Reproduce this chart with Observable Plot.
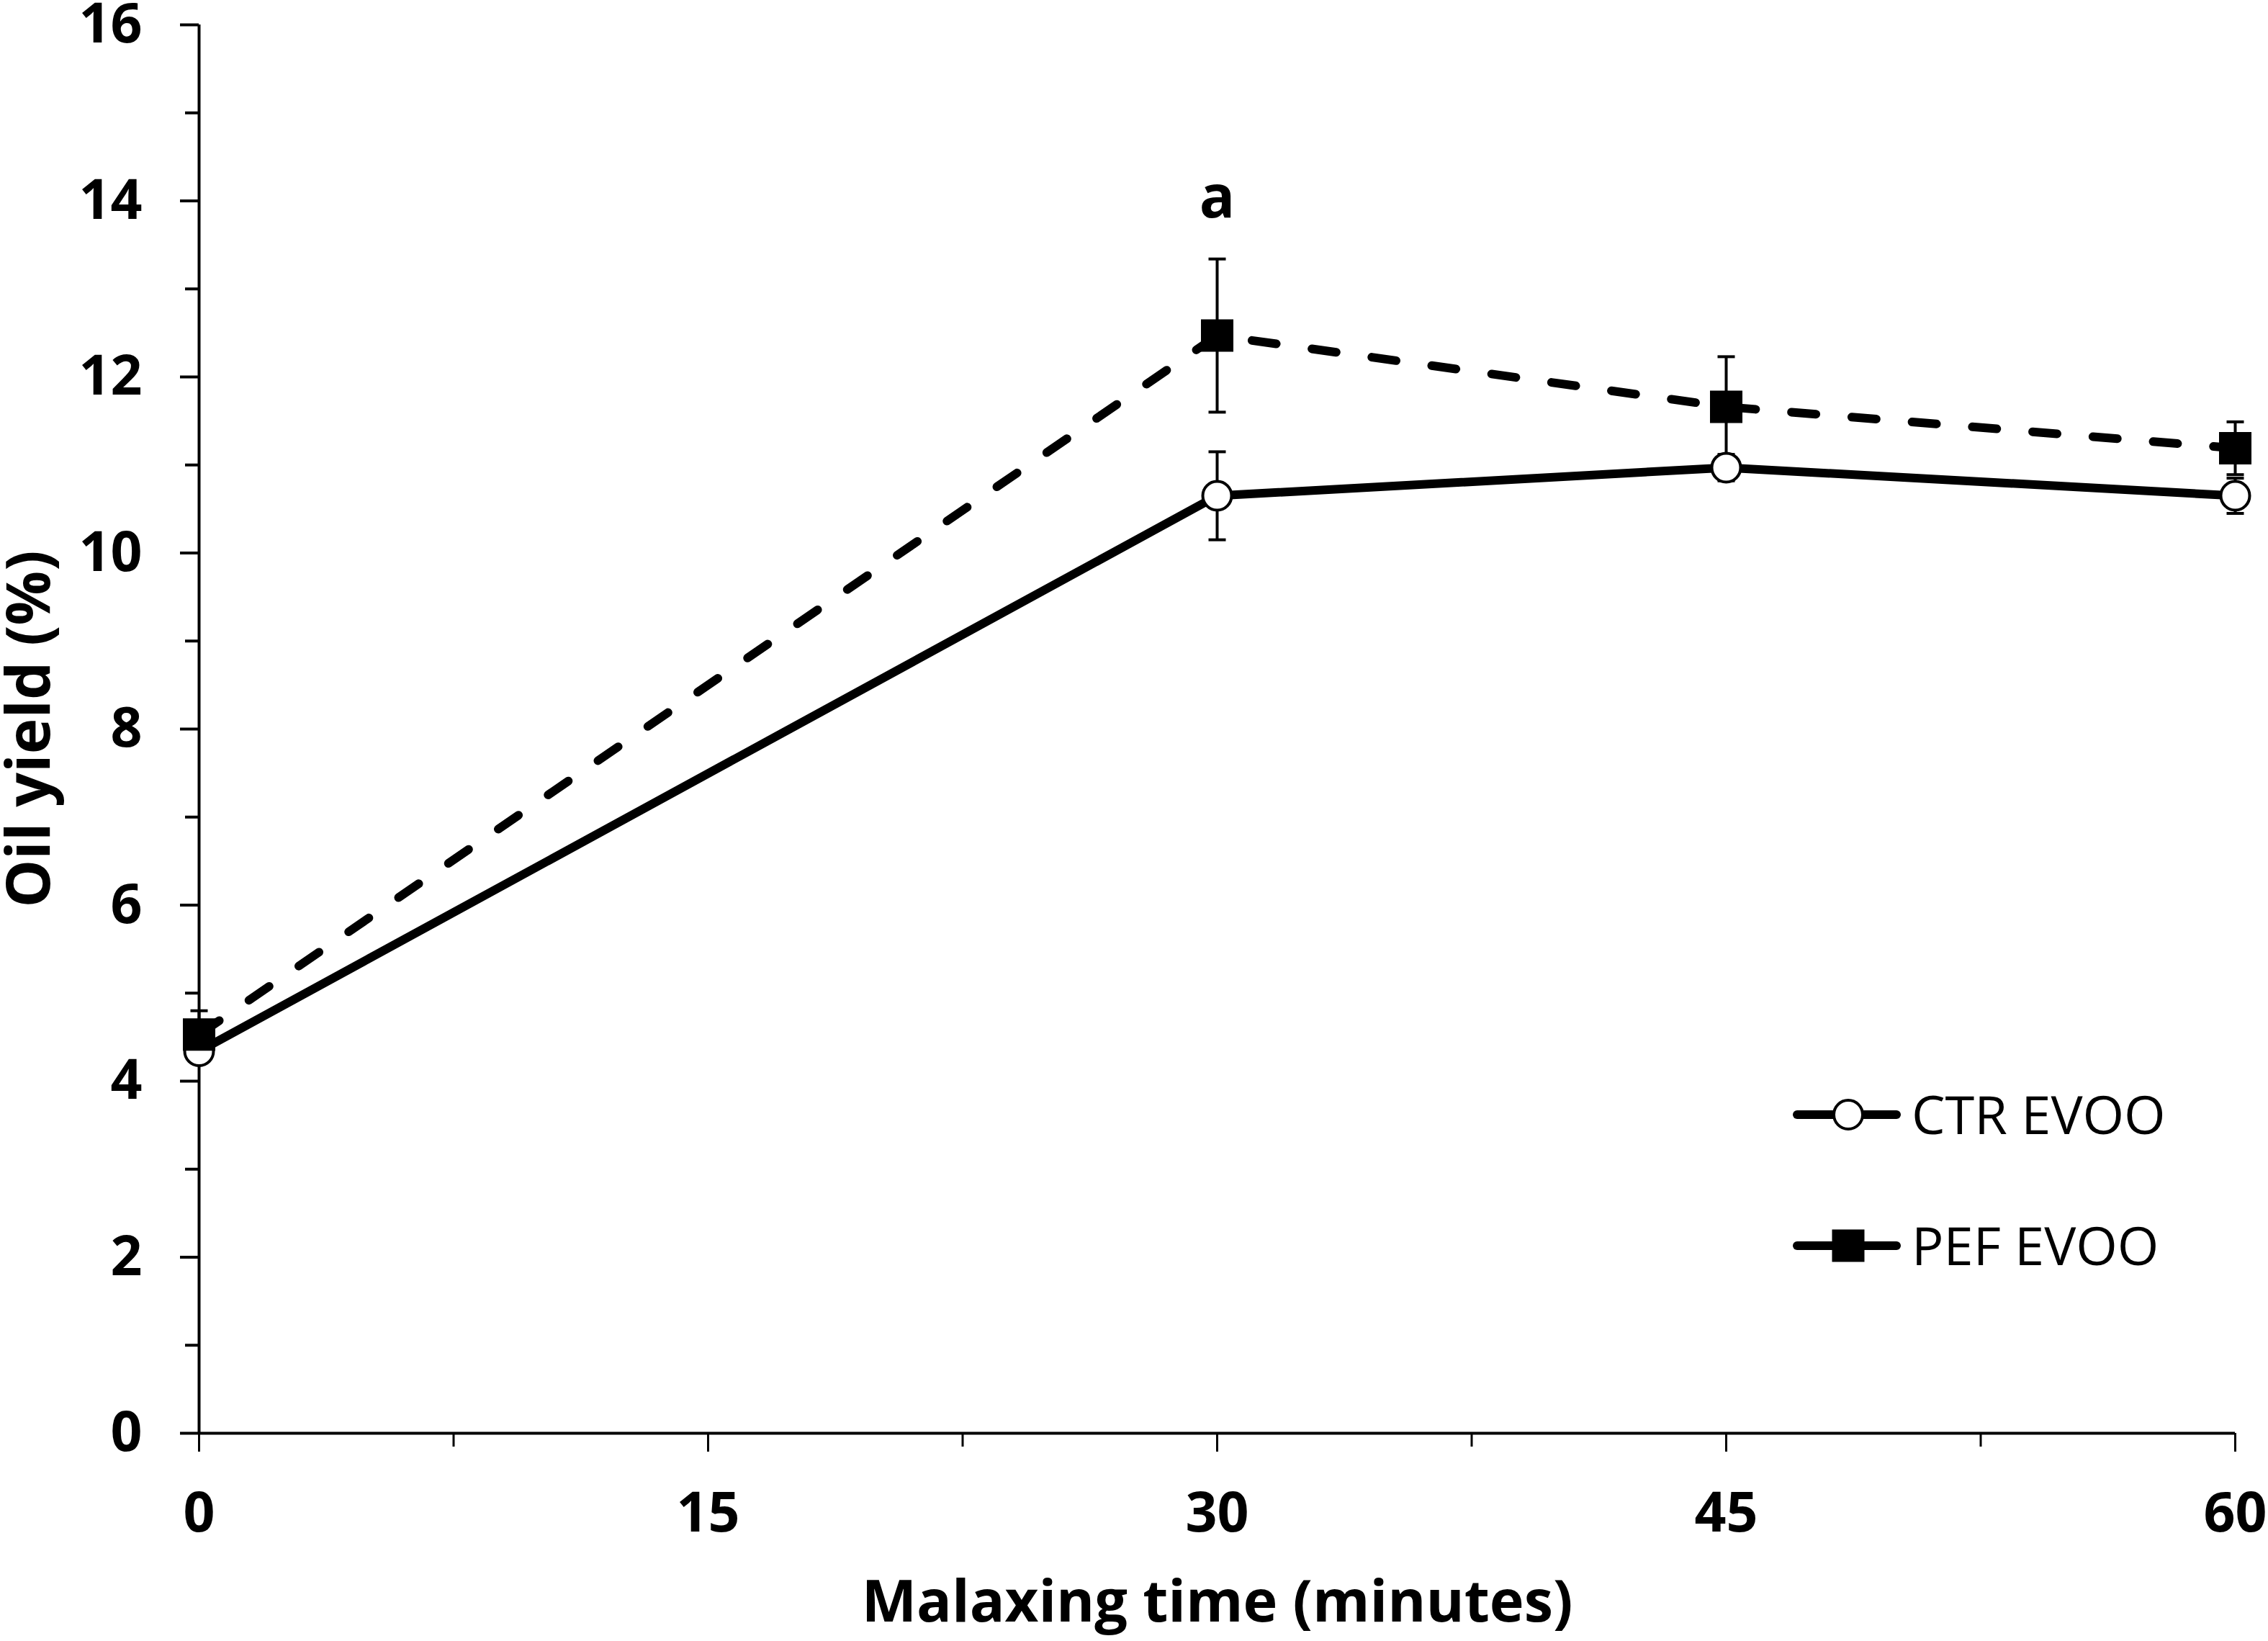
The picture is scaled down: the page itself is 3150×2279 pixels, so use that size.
<!DOCTYPE html>
<html><head><meta charset="utf-8">
<script src="https://cdn.jsdelivr.net/npm/d3@7"></script>
<script src="https://cdn.jsdelivr.net/npm/@observablehq/plot@0.6"></script>
<style>
html,body{margin:0;padding:0;background:#fff;}
#wrap{position:relative;width:3150px;height:2279px;}
#legend{position:absolute;left:0;top:0;pointer-events:none;}
</style></head><body><div id="wrap"></div>
<script>
const times = [0, 30, 45, 60];
const seriesNames = ["CTR EVOO", "PEF EVOO"];
const ctrMean = [4.34, 10.65, 10.97, 10.65];
const ctrSD = [0.10, 0.50, 0.15, 0.20];
const pefMean = [4.53, 12.47, 11.66, 11.19];
const pefSD = [0.27, 0.87, 0.57, 0.30];
const yMajorTicks = [0, 2, 4, 6, 8, 10, 12, 14, 16];
const yMinorTicks = [1, 3, 5, 7, 9, 11, 13, 15];
const xMajorTicks = [0, 15, 30, 45, 60];
const xMinorTicks = [7.5, 22.5, 37.5, 52.5];
const annotations = [{series: "PEF EVOO", t: 30, label: "a"}];
const xLabel = "Malaxing time (minutes)";
const yLabel = "Oil yield (%)";

const ctr = times.map((t, i) => ({series: seriesNames[0], t, mean: ctrMean[i], sd: ctrSD[i]}));
const pef = times.map((t, i) => ({series: seriesNames[1], t, mean: pefMean[i], sd: pefSD[i]}));
const all = [...ctr, ...pef];
const annData = annotations.map(a => {
  const d = all.find(p => p.series === a.series && p.t === a.t);
  return {t: a.t, top: d.mean + d.sd, label: a.label};
});

const font = "'Open Sans', sans-serif";
const capSymbol = {draw(ctx, size) { const w = Math.sqrt(size / Math.PI); ctx.moveTo(-w, 0); ctx.lineTo(w, 0); }};
const dash = "34,50";

const chart = Plot.plot({
  width: 3150, height: 2279,
  marginLeft: 276, marginRight: 46, marginTop: 34, marginBottom: 289,
  style: {fontFamily: font, background: "#fff", color: "#000", overflow: "visible"},
  x: {domain: [0, 60]},
  y: {domain: [0, 16]},
  marks: [
    Plot.axisY({ticks: yMinorTicks, tickSize: 19, tickFormat: () => "", strokeWidth: 4, label: null}),
    Plot.axisY({ticks: yMajorTicks, tickSize: 26, tickPadding: 53, strokeWidth: 4, fontSize: 77, fontWeight: 700, fontFamily: font, label: null}),
    Plot.axisX({ticks: xMinorTicks, tickSize: 19, tickFormat: () => "", strokeWidth: 3, label: null}),
    Plot.axisX({ticks: xMajorTicks, tickSize: 26, tickPadding: 56, strokeWidth: 3, fontSize: 77, fontWeight: 700, fontFamily: font, label: null}),
    Plot.ruleX([0], {strokeWidth: 4}),
    Plot.ruleY([0], {strokeWidth: 4}),
    Plot.ruleX(all, {x: "t", y1: d => d.mean - d.sd, y2: d => d.mean + d.sd, stroke: "black", strokeWidth: 4}),
    Plot.dot(all, {x: "t", y: d => d.mean + d.sd, symbol: capSymbol, r: 12, fill: "none", stroke: "black", strokeWidth: 4}),
    Plot.dot(all, {x: "t", y: d => d.mean - d.sd, symbol: capSymbol, r: 12, fill: "none", stroke: "black", strokeWidth: 4}),
    Plot.line(ctr, {x: "t", y: "mean", stroke: "black", strokeWidth: 12}),
    Plot.line(pef, {x: "t", y: "mean", stroke: "black", strokeWidth: 12, strokeDasharray: dash, strokeLinecap: "round"}),
    Plot.dot(ctr, {x: "t", y: "mean", r: 20, fill: "white", stroke: "black", strokeWidth: 4}),
    Plot.dot(pef, {x: "t", y: "mean", symbol: "square", r: 25.4, fill: "black", stroke: "none"}),
    Plot.text(annData, {x: "t", y: "top", text: "label", dy: -84, fontSize: 82, fontWeight: 700, fontFamily: font, lineAnchor: "middle", fill: "black"}),
    Plot.text([yLabel], {frameAnchor: "left", text: d => d, dx: -234, rotate: -90, textAnchor: "middle", lineAnchor: "middle", fontSize: 84, fontWeight: 700, fontFamily: font, fill: "black"}),
    Plot.text([xLabel], {frameAnchor: "bottom", text: d => d, dy: 236, textAnchor: "middle", lineAnchor: "middle", fontSize: 81, fontWeight: 700, fontFamily: font, fill: "black"})
  ]
});
const wrap = document.getElementById("wrap");
wrap.appendChild(chart);

// Legend overlay
const legendItems = [
  {name: seriesNames[0], marker: "circle"},
  {name: seriesNames[1], marker: "square"}
];
const lg = d3.select(wrap).append("svg").attr("id", "legend").attr("width", 3150).attr("height", 2279);
const lx0 = 2496, lx1 = 2634, mx = 2567, tx = 2655, ly0 = 1548, lstep = 182;
legendItems.forEach((item, i) => {
  const y = ly0 + i * lstep;
  lg.append("line").attr("x1", lx0).attr("x2", lx1).attr("y1", y).attr("y2", y)
    .attr("stroke", "black").attr("stroke-width", 12).attr("stroke-linecap", "round");
  if (item.marker === "circle") {
    lg.append("circle").attr("cx", mx).attr("cy", y).attr("r", 20)
      .attr("fill", "white").attr("stroke", "black").attr("stroke-width", 4);
  } else {
    lg.append("rect").attr("x", mx - 22.5).attr("y", y - 22.5).attr("width", 45).attr("height", 45).attr("fill", "black");
  }
  lg.append("text").attr("x", tx).attr("y", y + 27).attr("font-family", font).attr("font-size", 74)
    .attr("fill", "black").text(item.name);
});
</script></body></html>
